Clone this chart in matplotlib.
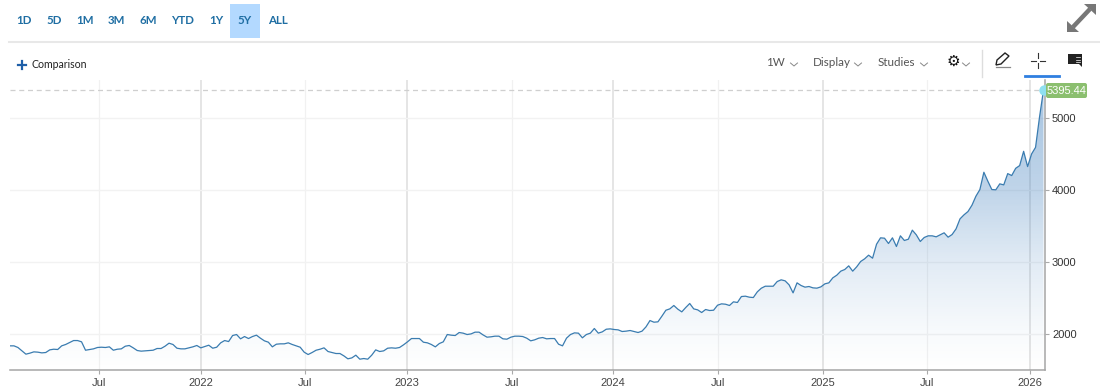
import numpy as np
import matplotlib
matplotlib.use('Agg')
import matplotlib.pyplot as plt
from matplotlib.colors import LinearSegmentedColormap
from matplotlib.patches import Polygon, Rectangle, FancyBboxPatch

# weekly close
prices = [
    1828,1828,1805,1758,1712,1726,1744,1740,1730,1735,
    1772,1781,1777,1828,1847,1875,1902,1902,1884,1767,
    1777,1786,1805,1809,1805,1814,1767,1781,1786,1823,
    1833,1800,1763,1754,1758,1763,1767,1791,1791,1823,
    1865,1847,1795,1786,1786,1800,1814,1833,1800,1819,
    1837,1795,1809,1870,1902,1888,1972,1986,1926,1958,
    1930,1958,1977,1935,1898,1879,1814,1851,1856,1856,
    1870,1847,1828,1809,1740,1707,1735,1767,1781,1800,
    1749,1735,1721,1721,1688,1647,1660,1698,1642,1651,
    1642,1698,1772,1749,1758,1795,1800,1795,
    1805,1842,1884,1930,1930,1930,1879,1870,1847,1814,
    1860,1884,1986,1977,1972,2014,2005,1986,1995,2019,
    2019,1981,1949,1954,1963,1963,1926,1921,1949,1963,
    1963,1958,1935,1898,1912,1935,1944,1926,1930,1930,
    1851,1828,1935,1986,2009,2005,1940,1986,2005,2070,
    2005,2023,2060,2065,2056,2051,2028,2033,2042,2028,
    2014,2033,2093,2181,2158,2163,2242,2325,2344,2391,
    2340,2302,2363,2419,2344,2330,2293,2335,2321,2325,
    2395,2414,2409,2391,2442,2433,2516,2521,2507,2502,
    2581,2632,2660,2660,2660,2725,2749,2735,2679,2567,
    2707,2670,2647,2656,2637,2633,2651,2693,2707,2777,
    2814,2870,2893,2944,2870,2930,3005,3042,3093,3051,
    3246,3335,3330,3256,3335,3214,3363,3298,3316,3442,
    3377,3284,3340,3363,3363,3349,3377,3405,3344,3381,
    3460,3600,3656,3702,3790,3916,4009,4250,4125,4009,
    4005,4088,4074,4231,4204,4305,4343,4542,4329,4505,
    4597,5020,5395,
]
last_price = 5395.44

tick_weeks = [22.5, 48, 74.3, 99.8, 126.2, 151.6, 178, 204.5, 230.8, 256.6]
tick_labels = ['Jul', '2022', 'Jul', '2023', 'Jul', '2024', 'Jul', '2025', 'Jul', '2026']
y_ticks = [2000, 3000, 4000, 5000]
ranges = ['1D', '5D', '1M', '3M', '6M', 'YTD', '1Y', '5Y', 'ALL']
range_x = [24, 54, 85, 116, 148, 183, 216, 245, 278]

W, H = 1100, 391
plt.rcParams['font.family'] = ['Liberation Sans', 'DejaVu Sans']
fig = plt.figure(figsize=(W / 100, H / 100), dpi=100, facecolor='white')

# main plot
ax = fig.add_axes([10 / W, (H - 369.5) / H, 1035 / W, 289.5 / H])
weeks = np.arange(len(prices))
ax.set_xlim(0, 1035 / 3.975)
ax.set_ylim(1498, 5537)

for t, lab in zip(tick_weeks, tick_labels):
    if lab == 'Jul':
        ax.axvline(t, color='#f1f1f1', lw=0.9, zorder=1)
    else:
        ax.axvline(t, color='#e0e0e0', lw=1.2, zorder=1)
for v in y_ticks:
    ax.axhline(v, color='#f2f2f2', lw=1, zorder=1)

# gradient under the line
cmap = LinearSegmentedColormap.from_list('fade', [
    (0.0, (0.27, 0.51, 0.75, 0.0)), (0.13, (0.27, 0.51, 0.75, 0.04)),
    (0.385, (0.27, 0.51, 0.75, 0.16)), (0.64, (0.27, 0.51, 0.75, 0.34)),
    (1.0, (0.27, 0.51, 0.75, 0.47))])
grad = ax.imshow(np.linspace(1, 0, 256).reshape(-1, 1), cmap=cmap, aspect='auto',
                 extent=[0, 1035 / 3.975, 1498, last_price], zorder=2, vmin=0, vmax=1)
clip = Polygon(np.column_stack([np.r_[weeks[0], weeks, weeks[-1]],
                                np.r_[1498, prices, 1498]]),
               closed=True, transform=ax.transData, fc='none', ec='none')
ax.add_patch(clip)
grad.set_clip_path(clip)
ax.set_xlim(0, 1035 / 3.975)
ax.set_ylim(1498, 5537)

ax.plot(weeks, prices, color='#3a7cb0', lw=0.9, zorder=3)
ax.axhline(last_price, color='#cfcfcf', lw=0.9, dashes=(4, 3), zorder=2)
ax.plot(weeks[-1], last_price, 'o', ms=7.5, color='#8fe0f0', mec='none', zorder=5, clip_on=False)

ax.set_xticks(tick_weeks)
ax.set_xticklabels(tick_labels)
ax.yaxis.tick_right()
ax.set_yticks(y_ticks)
ax.tick_params(axis='x', length=3, width=0.8, color='#aaaaaa', labelsize=8, labelcolor='#444444', pad=3)
ax.tick_params(axis='y', length=3, width=0.8, color='#aaaaaa', labelsize=8, labelcolor='#333333', pad=2)
for s in ['top', 'left']:
    ax.spines[s].set_visible(False)
for s in ['bottom', 'right']:
    ax.spines[s].set_color('#a5a5a5')
    ax.spines[s].set_linewidth(1.1)

# toolbar drawn in pixel coords
ui = fig.add_axes([0, 0, 1, 1], facecolor='none')
ui.set_xlim(0, W)
ui.set_ylim(H, 0)
ui.axis('off')

ui.add_patch(Rectangle((230, 4), 30, 34, fc='#b3d9ff', ec='none'))
for lab, x in zip(ranges, range_x):
    ui.text(x, 21, lab, ha='center', va='center', fontsize=8.3, color='#1f6ea3',
            family='Lato', weight='bold')
ui.plot([9, W], [41.5, 41.5], color='#e8e8e8', lw=1.5)

ui.plot([18, 26], [64.5, 64.5], color='#1f5fa8', lw=1.6)
ui.plot([22, 22], [60.5, 68.5], color='#1f5fa8', lw=1.6)
ui.text(32, 65, 'Comparison', ha='left', va='center', fontsize=7.6, color='#222222', family='Lato')

for lab, x in [('1W', 766), ('Display', 813), ('Studies', 878)]:
    ui.text(x, 62, lab, ha='left', va='center', fontsize=8.4, color='#555555', family='Lato')
for x in [794, 858, 924, 966]:
    ui.plot([x - 3.5, x, x + 3.5], [63, 66, 63], color='#888888', lw=0.7)
ui.text(953, 61, '\u2699', ha='center', va='center', fontsize=11, color='#111111', family='DejaVu Sans')
ui.plot([981.5, 981.5], [50, 77], color='#dddddd', lw=1)

# pencil
ui.add_patch(Polygon([(996, 65), (997, 60), (1005, 53), (1009, 56), (1001, 64)],
                     closed=True, fc='none', ec='#222222', lw=1))
ui.plot([996, 1010], [67, 67], color='#888888', lw=0.9)
# crosshair
ui.plot([1031, 1036], [60.5, 60.5], color='#333333', lw=0.8)
ui.plot([1040, 1045], [60.5, 60.5], color='#333333', lw=0.8)
ui.plot([1038, 1038], [53, 58], color='#333333', lw=0.8)
ui.plot([1038, 1038], [63, 68], color='#333333', lw=0.8)
ui.plot([1025, 1059], [76, 76], color='#2f7fe0', lw=2)
# note icon
ui.add_patch(Polygon([(1068, 54), (1082, 54), (1082, 67), (1079, 64), (1068, 64)],
                     closed=True, fc='#222222', ec='none'))
for yy in [57, 59.5, 62]:
    ui.plot([1076, 1080], [yy, yy], color='white', lw=0.5)

# expand arrows
ui.plot([1073, 1090], [27, 9], color='#777777', lw=3.2, solid_capstyle='butt')
ui.add_patch(Polygon([(1067, 32), (1067, 21), (1079, 32)], closed=True, fc='#777777', ec='none'))
ui.add_patch(Polygon([(1096, 4), (1096, 15), (1084, 4)], closed=True, fc='#777777', ec='none'))

# last price tag
ui.add_patch(FancyBboxPatch((1046, 83), 41, 15, boxstyle='round,pad=0,rounding_size=2',
                            fc='#8bbf6f', ec='none', zorder=4))
ui.text(1066.5, 90.8, f'{last_price:.2f}', ha='center', va='center', fontsize=8, color='white', zorder=5)

fig.savefig('out.png', dpi=100)
